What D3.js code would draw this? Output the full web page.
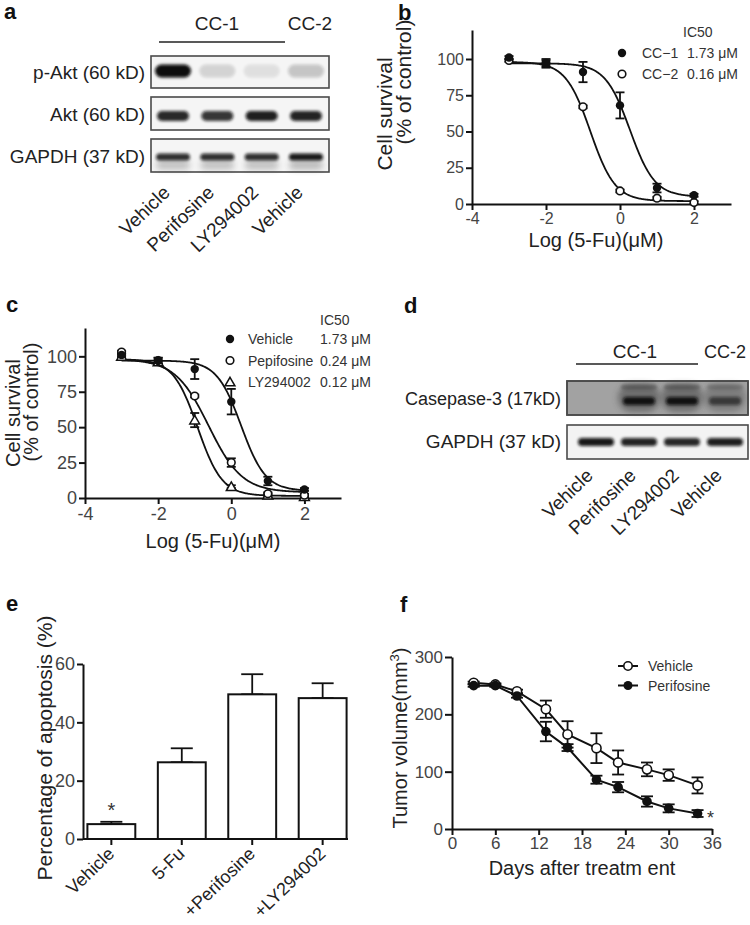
<!DOCTYPE html>
<html><head><meta charset="utf-8">
<script src="https://cdn.jsdelivr.net/npm/d3@7"></script>
<style>body{margin:0;background:#fff} svg{font-family:Arial,"Liberation Sans",sans-serif}</style>
</head><body><svg id="c" width="750" height="925"></svg>
<script>
// ---------------- DATA ----------------
// panel a (western blot, relative band intensity per lane)
const blotALanes = ["Vehicle", "Perifosine", "LY294002", "Vehicle"];
const blotARows = ["p-Akt (60 kD)", "Akt (60 kD)", "GAPDH (37 kD)"];
const pAktBand = [1.0, 0.14, 0.09, 0.2];
const aktBand = [0.88, 0.82, 0.92, 0.9];
const gapdhABand = [0.85, 0.85, 0.85, 0.95];
const blotGroups = ["CC-1", "CC-2"];
// panel b
const logDose = [-3, -2, -1, 0, 1, 2];
const bSeries = ["CC\u22121", "CC\u22122"];
const bIC50 = ["1.73 \u03bcM", "0.16 \u03bcM"];
const bCC1 = [101, 97, 91, 68, 11, 6];
const bCC1Err = [1, 3, 7, 9, 3, 1];
const bCC2 = [99, 97, 67, 9, 4, 1];
const bCC2Err = [1, 2, 1, 1, 1, 1];
const bFitCC1 = [97, 5, 0.27, 1.3];   // top, bottom, logIC50, hill
const bFitCC2 = [98, 2, -0.8, 1.3];
const bXTicks = [-4, -2, 0, 2];
const survTicks = [0, 25, 50, 75, 100];
// panel c
const cSeries = ["Vehicle", "Pepifosine", "LY294002"];
const cIC50 = ["1.73 \u03bcM", "0.24 \u03bcM", "0.12 \u03bcM"];
const cVehicle = [101, 97, 91, 68, 12, 6];
const cVehicleErr = [1, 2, 7, 9, 3, 1];
const cPerif = [103, 97, 72, 25, 3, 2];
const cPerifErr = [1, 2, 1, 3, 1, 1];
const cLY = [100, 96, 55, 8, 2, 1];
const cLYErr = [1, 1, 5, 1, 1, 1];
const cFitVehicle = [97, 5, 0.27, 1.3];
const cFitPerif = [98, 4, -0.62, 0.95];
const cFitLY = [98, 1.5, -0.92, 1.3];
// panel d
const blotDRows = ["Casepase-3 (17kD)", "GAPDH (37 kD)"];
const casp3Band = [0.0, 0.95, 0.95, 0.6];
const casp3Upper = [0.0, 0.35, 0.35, 0.25];
const casp3Smear = [0.0, 0.5, 0.5, 0.35];
const gapdhDBand = [0.95, 0.9, 0.88, 0.92];
// panel e
const eCats = ["Vehicle", "5-Fu", "+Perifosine", "+LY294002"];
const eVals = [5.1, 26.3, 49.6, 48.3];
const eErr = [0.8, 4.8, 6.9, 5.1];
const eTicks = [0, 20, 40, 60];
// panel f
const fDays = [3, 6, 9, 13, 16, 20, 23, 27, 30, 34];
const fVehicle = [255, 252, 240, 209, 165, 141, 116, 104, 94, 76];
const fVehicleErr = [2, 2, 3, 15, 23, 26, 21, 12, 10, 14];
const fPerif = [250, 250, 232, 170, 142, 86, 73, 48, 36, 27];
const fPerifErr = [2, 2, 3, 17, 6, 7, 9, 9, 7, 6];
const fXTicks = [0, 6, 12, 18, 24, 30, 36];
const fYTicks = [0, 100, 200, 300];
const fSeries = ["Vehicle", "Perifosine"];

// ---------------- HELPERS ----------------
const svg = d3.select("#c");
const defs = svg.append("defs");
function blurFilter(id, sd) {
  defs.append("filter").attr("id", id).attr("x", "-60%").attr("y", "-200%")
    .attr("width", "220%").attr("height", "500%")
    .append("feGaussianBlur").attr("stdDeviation", sd);
}
blurFilter("blur", 1.7);
blurFilter("blur3", 3);

function styleAxis(g, fs) {
  g.selectAll(".domain").attr("stroke", "#111").attr("stroke-width", 2);
  g.selectAll(".tick line").attr("stroke", "#111").attr("stroke-width", 2);
  g.selectAll(".tick text").attr("fill", "#444").style("font-size", fs + "px")
    .style("font-family", "Arial, 'Liberation Sans', sans-serif");
}
function panelLetter(t, x, y) {
  svg.append("text").attr("x", x).attr("y", y).text(t)
    .style("font-size", "22px").style("font-weight", "bold").attr("fill", "#111");
}
function text(g, t, x, y, fs, anchor, fill) {
  return g.append("text").attr("x", x).attr("y", y).text(t)
    .style("font-size", fs + "px").attr("text-anchor", anchor || "start").attr("fill", fill || "#222");
}
function rotText(g, t, x, y, fs, ang, anchor) {
  return g.append("text").attr("transform", `translate(${x},${y}) rotate(${ang})`)
    .text(t).style("font-size", fs + "px").attr("text-anchor", anchor || "middle").attr("fill", "#222");
}
function hill(p, x) { return p[1] + (p[0] - p[1]) / (1 + Math.pow(10, (x - p[2]) * p[3])); }

function marker(g, type, x, y) {
  if (type === "filled") g.append("circle").attr("cx", x).attr("cy", y).attr("r", 4.2).attr("fill", "#111");
  else if (type === "open") g.append("circle").attr("cx", x).attr("cy", y).attr("r", 3.8).attr("fill", "#fff").attr("stroke", "#111").attr("stroke-width", 1.6);
  else if (type === "tri") g.append("path").attr("d", d3.symbol(d3.symbolTriangle, 42)()).attr("transform", `translate(${x},${y + 1})`).attr("fill", "#fff").attr("stroke", "#111").attr("stroke-width", 1.5);
}
function errBar(g, x, y0, y1, cap) {
  g.append("line").attr("x1", x).attr("x2", x).attr("y1", y0).attr("y2", y1).attr("stroke", "#111").attr("stroke-width", 1.8);
  [y0, y1].forEach(y => g.append("line").attr("x1", x - cap / 2).attr("x2", x + cap / 2).attr("y1", y).attr("y2", y).attr("stroke", "#111").attr("stroke-width", 1.8));
}

// blot drawing
function blotBox(g, x, y, w, h, fill) {
  g.append("rect").attr("x", x).attr("y", y).attr("width", w).attr("height", h)
    .attr("fill", fill).attr("stroke", "#4a4a4a").attr("stroke-width", 1.6);
}
function bands(g, lanes, vals, cy, bw, bh, color, filt) {
  lanes.forEach((lx, i) => {
    if (vals[i] <= 0) return;
    g.append("rect").attr("x", lx - bw / 2).attr("y", cy - bh / 2).attr("width", bw).attr("height", bh)
      .attr("rx", bh / 2).attr("fill", color).attr("opacity", vals[i]).attr("filter", `url(#${filt || "blur"})`);
  });
}

// ---------------- PANEL A ----------------
const gA = svg.append("g");
panelLetter("a", 4, 19);
const laneA = d3.scalePoint().domain(d3.range(blotALanes.length)).range([173, 306]);
const laneAX = blotALanes.map((d, i) => laneA(i));
text(gA, blotGroups[0], 217, 30, 19, "middle");
text(gA, blotGroups[1], 310, 30, 19, "middle");
gA.append("line").attr("x1", 159).attr("x2", 285).attr("y1", 42).attr("y2", 42).attr("stroke", "#222").attr("stroke-width", 1.3);
const rowBoxesA = [[56, 88], [97, 130], [139, 172]];
rowBoxesA.forEach((r, i) => {
  blotBox(gA, 151, r[0], 178, r[1] - r[0], "#f5f5f5");
  text(gA, blotARows[i], 145, (r[0] + r[1]) / 2 + 7, 19, "end");
});
bands(gA, laneAX, pAktBand, 71, 36, 13, "#0a0a0a");
bands(gA, laneAX, aktBand, 116, 32, 10, "#0a0a0a");
bands(gA, laneAX, gapdhABand.map(v => v * 0.3), 165, 34, 9, "#222", "blur3");
bands(gA, laneAX, gapdhABand, 157, 34, 7, "#0a0a0a");
blotALanes.forEach((l, i) => rotText(gA, l, laneAX[i] - 2, 194, 19, -44, "end"));

// ---------------- PANEL B ----------------
const gB = svg.append("g");
panelLetter("b", 398, 20);
const xB = d3.scaleLinear().domain([-4, 3]).range([472, 731]);
const yB = d3.scaleLinear().domain([0, 120]).range([204, 30]);
gB.append("g").attr("transform", "translate(0,204)")
  .call(d3.axisBottom(xB).tickValues(bXTicks).tickSize(6).tickSizeOuter(0).tickPadding(3).tickFormat(d => String(d)))
  .call(g => styleAxis(g, 16));
gB.append("g").attr("transform", "translate(472,0)")
  .call(d3.axisLeft(yB).tickValues(survTicks).tickSize(6).tickSizeOuter(0).tickPadding(2))
  .call(g => styleAxis(g, 16));
const curveXs = d3.range(-3, 2.0001, 0.025);
const lineB = d3.line().x(d => xB(d[0])).y(d => yB(d[1]));
[bFitCC1, bFitCC2].forEach(p => gB.append("path").attr("d", lineB(curveXs.map(x => [x, hill(p, x)])))
  .attr("fill", "none").attr("stroke", "#111").attr("stroke-width", 1.8));
logDose.forEach((x, i) => {
  errBar(gB, xB(x), yB(bCC1[i] - bCC1Err[i]), yB(bCC1[i] + bCC1Err[i]), 9);
  errBar(gB, xB(x), yB(bCC2[i] - bCC2Err[i]), yB(bCC2[i] + bCC2Err[i]), 9);
});
logDose.forEach((x, i) => { marker(gB, "open", xB(x), yB(bCC2[i])); marker(gB, "filled", xB(x), yB(bCC1[i])); });
text(gB, "Log (5-Fu)(\u03bcM)", 596, 247, 20, "middle");
rotText(gB, "Cell survival", 392, 114, 21, -90);
rotText(gB, "(% of control)", 411, 82, 21, -90);
text(gB, "IC50", 683, 37, 14, "start", "#333");
["filled", "open"].forEach((m, i) => {
  const cy = 53 + i * 21;
  marker(gB, m, 622, cy);
  text(gB, bSeries[i], 642, cy + 5, 14, "start", "#333");
  text(gB, bIC50[i], 687, cy + 5, 14, "start", "#333");
});

// ---------------- PANEL C ----------------
const gC = svg.append("g");
panelLetter("c", 6, 312);
const xC = d3.scaleLinear().domain([-4, 3]).range([85, 341]);
const yC = d3.scaleLinear().domain([0, 120]).range([498, 328]);
gC.append("g").attr("transform", "translate(0,498)")
  .call(d3.axisBottom(xC).tickValues(bXTicks).tickSize(6).tickSizeOuter(0).tickPadding(3).tickFormat(d => String(d)))
  .call(g => styleAxis(g, 18));
gC.append("g").attr("transform", "translate(85,0)")
  .call(d3.axisLeft(yC).tickValues(survTicks).tickSize(6).tickSizeOuter(0).tickPadding(2))
  .call(g => styleAxis(g, 18));
const lineC = d3.line().x(d => xC(d[0])).y(d => yC(d[1]));
[cFitVehicle, cFitPerif, cFitLY].forEach(p => gC.append("path").attr("d", lineC(curveXs.map(x => [x, hill(p, x)])))
  .attr("fill", "none").attr("stroke", "#111").attr("stroke-width", 1.8));
const cData = [[cVehicle, cVehicleErr, "filled"], [cPerif, cPerifErr, "open"], [cLY, cLYErr, "tri"]];
cData.forEach(([v, e]) => logDose.forEach((x, i) => errBar(gC, xC(x), yC(v[i] - e[i]), yC(v[i] + e[i]), 9)));
[cData[2], cData[1], cData[0]].forEach(([v, e, m]) => logDose.forEach((x, i) => marker(gC, m, xC(x), yC(v[i]))));
text(gC, "Log (5-Fu)(\u03bcM)", 213, 548, 20, "middle");
rotText(gC, "Cell survival", 20, 413, 20, -90);
rotText(gC, "(% of control)", 38, 402, 20, -90);
text(gC, "IC50", 320, 325, 14, "start", "#333");
cData.forEach((d, i) => {
  const cy = 339 + i * 21.5;
  marker(gC, d[2], 230, cy);
  text(gC, cSeries[i], 248, cy + 5, 14, "start", "#333");
  text(gC, cIC50[i], 320, cy + 5, 14, "start", "#333");
});

// ---------------- PANEL D ----------------
const gD = svg.append("g");
panelLetter("d", 404, 313);
const laneD = d3.scalePoint().domain(d3.range(blotALanes.length)).range([596, 725]);
const laneDX = blotALanes.map((d, i) => laneD(i));
text(gD, blotGroups[0], 635, 358, 19, "middle");
text(gD, blotGroups[1], 725, 358, 18, "middle");
gD.append("line").attr("x1", 576).attr("x2", 698).attr("y1", 364).attr("y2", 364).attr("stroke", "#222").attr("stroke-width", 1.3);
blotBox(gD, 567, 381, 181, 34, "#a2a2a2");
bands(gD, laneDX, casp3Smear, 398, 42, 28, "#3a3a3a", "blur3");
bands(gD, laneDX, casp3Upper, 387, 36, 5, "#222");
bands(gD, laneDX, casp3Band, 401, 32, 8, "#0a0a0a");
gD.append("rect").attr("x", 567).attr("y", 381).attr("width", 181).attr("height", 34).attr("fill", "none").attr("stroke", "#4a4a4a").attr("stroke-width", 1.6);
blotBox(gD, 567, 425, 181, 34, "#f3f3f3");
bands(gD, laneDX, gapdhDBand, 442, 36, 8, "#0a0a0a");
text(gD, blotDRows[0], 561, 405, 18, "end");
text(gD, blotDRows[1], 561, 448, 19, "end");
blotALanes.forEach((l, i) => rotText(gD, l, laneDX[i] - 2, 477, 19, -44, "end"));

// ---------------- PANEL E ----------------
const gE = svg.append("g");
panelLetter("e", 6, 611);
const xE = d3.scaleBand().domain(eCats).range([86, 348]).paddingInner(0.32).paddingOuter(0.02);
const yE = d3.scaleLinear().domain([0, 60]).range([839, 664]);
gE.append("g").attr("transform", "translate(83,0)")
  .call(d3.axisLeft(yE).tickValues(eTicks).tickSize(6).tickSizeOuter(0).tickPadding(2))
  .call(g => styleAxis(g, 18));
eCats.forEach((c, i) => {
  const cx = xE(c) + xE.bandwidth() / 2;
  errBar(gE, cx, yE(eVals[i]), yE(eVals[i] + eErr[i]), 22);
});
gE.selectAll("rect.bar").data(eCats).enter().append("rect")
  .attr("x", d => xE(d)).attr("width", xE.bandwidth())
  .attr("y", (d, i) => yE(eVals[i])).attr("height", (d, i) => yE(0) - yE(eVals[i]))
  .attr("fill", "#fff").attr("stroke", "#111").attr("stroke-width", 2);
const axE = gE.append("g").attr("transform", "translate(0,839)")
  .call(d3.axisBottom(xE).tickSize(6).tickSizeOuter(0).tickFormat(""));
styleAxis(axE, 18);
axE.select(".domain").attr("d", "M83,0H348");
eCats.forEach(c => rotText(gE, c, xE(c) + xE.bandwidth() / 2 + 4, 855, 18, -44, "end"));
text(gE, "*", xE(eCats[0]) + xE.bandwidth() / 2, 817, 20, "middle", "#333");
rotText(gE, "Percentage of apoptosis (%)", 52, 748, 21, -90);

// ---------------- PANEL F ----------------
const gF = svg.append("g");
panelLetter("f", 400, 612);
const xF = d3.scaleLinear().domain([0, 36]).range([452, 712]);
const yF = d3.scaleLinear().domain([0, 300]).range([829, 657]);
gF.append("g").attr("transform", "translate(0,829)")
  .call(d3.axisBottom(xF).tickValues(fXTicks).tickSize(6).tickSizeOuter(0).tickPadding(2))
  .call(g => styleAxis(g, 17));
gF.append("g").attr("transform", "translate(452,0)")
  .call(d3.axisLeft(yF).tickValues(fYTicks).tickSize(7).tickSizeOuter(0).tickPadding(2))
  .call(g => styleAxis(g, 17));
const lineF = d3.line().x(d => xF(d[0])).y(d => yF(d[1]));
const fData = [[fVehicle, fVehicleErr, "open"], [fPerif, fPerifErr, "filled"]];
fData.forEach(([v, e]) => {
  gF.append("path").attr("d", lineF(fDays.map((d, i) => [d, v[i]]))).attr("fill", "none").attr("stroke", "#111").attr("stroke-width", 2);
  fDays.forEach((d, i) => errBar(gF, xF(d), yF(v[i] - e[i]), yF(v[i] + e[i]), 12));
});
fData.forEach(([v, e, m]) => fDays.forEach((d, i) => {
  if (m === "filled") gF.append("circle").attr("cx", xF(d)).attr("cy", yF(v[i])).attr("r", 4.8).attr("fill", "#111");
  else gF.append("circle").attr("cx", xF(d)).attr("cy", yF(v[i])).attr("r", 4.6).attr("fill", "#fff").attr("stroke", "#111").attr("stroke-width", 1.6);
}));
text(gF, "*", xF(34) + 13, 824, 18, "middle", "#333");
fData.forEach((d, i) => {
  const cy = 666 + i * 19.5;
  gF.append("line").attr("x1", 618).attr("x2", 638).attr("y1", cy).attr("y2", cy).attr("stroke", "#111").attr("stroke-width", 2);
  if (d[2] === "filled") gF.append("circle").attr("cx", 628).attr("cy", cy).attr("r", 4.5).attr("fill", "#111");
  else gF.append("circle").attr("cx", 628).attr("cy", cy).attr("r", 4.2).attr("fill", "#fff").attr("stroke", "#111").attr("stroke-width", 1.6);
  text(gF, fSeries[i], 648, cy + 5, 14, "start", "#333");
});
text(gF, "Days after treatm ent", 582, 875, 20, "middle");
const fy = rotText(gF, "", 407, 738, 20, -90);
fy.append("tspan").text("Tumor volume(mm");
fy.append("tspan").text("3").attr("dy", -8).style("font-size", "13px");
fy.append("tspan").text(")").attr("dy", 8);
</script></body></html>
